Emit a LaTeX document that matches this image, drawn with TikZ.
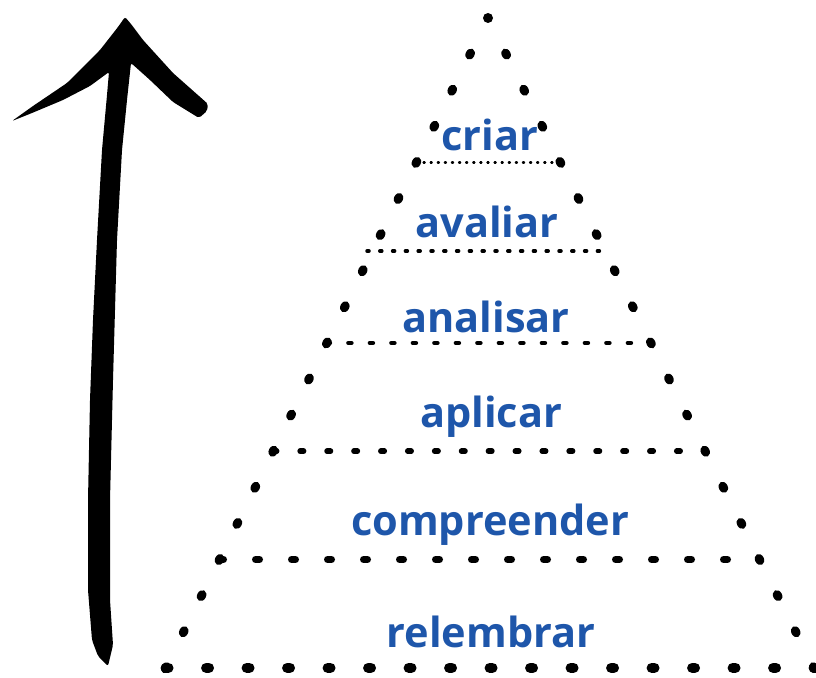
\documentclass[tikz,border=0pt]{standalone}
\definecolor{bloomblue}{RGB}{30,86,170}
\usepackage{fontspec}
\setmainfont{Open Sans}
\usepackage{tikz}
\usetikzlibrary{shapes.geometric}

\begin{document}
\begin{tikzpicture}[x=1pt, y=-1pt,
    sidedot/.style={ellipse, fill=black, inner sep=0pt, minimum width=11.5pt, minimum height=9pt},
    levellabel/.style={text=bloomblue, anchor=base, inner sep=0pt, font=\fontsize{41.5}{48}\selectfont\bfseries},
    levelline/.style={line cap=round, line width=#1}]
    \useasboundingbox (0,0) rectangle (816,677);
    % brush arrow
    \fill[rounded corners=2pt] (108,666) -- (98,656) -- (92,640) -- (88,590) -- (88,500) -- (90,400)
      -- (93,320) -- (97,240) -- (102,150) -- (107,95) -- (109,72)
      -- (90,86) -- (63,100) -- (32,113) -- (12,121)
      -- (33,106) -- (67,83) -- (100,50) -- (118,27) -- (125,17) -- (131,24)
      -- (143,40) -- (173,73) -- (208,104) -- (207,111) -- (199,118)
      -- (173,102) -- (150,80) -- (131,63) -- (127,100) -- (122,150)
      -- (117,240) -- (113,380) -- (110,500) -- (110,600) -- (113,645) -- cycle;
    % pyramid dots
    \node[sidedot, minimum width=10pt, minimum height=10pt] (apex) at (488,18) {};
    \foreach \k in {1,...,18}{
      \node[sidedot, rotate=63] (L\k) at ({488-17.9*\k},{18+36.1*\k}) {};
      \node[sidedot, rotate=-63] (R\k) at ({488+18.1*\k},{18+36.1*\k}) {};
    }
    \coordinate (avL) at (367,251);
    \coordinate (avR) at (610,251);
    \draw[levelline=2.2pt, dash pattern=on 1.2pt off 5.9pt] (L4.center) -- (R4.center);
    \draw[levelline=3.5pt, dash pattern=on 2pt off 10.8pt] (avL) -- (avR);
    \draw[levelline=4.5pt, dash pattern=on 3pt off 18.5pt] (L9.center) -- (R9.center);
    \draw[levelline=5.5pt, dash pattern=on 3.5pt off 23.4pt] (L12.center) -- (R12.center);
    \draw[levelline=7pt, dash pattern=on 4pt off 32pt] (L15.center) -- (R15.center);
    \draw[levelline=10.5pt, dash pattern=on 2.5pt off 38pt] (L18.center) -- (R18.center);
    % levels
    \node[levellabel] (criar) at (490,150) {criar};
    \node[levellabel] (avaliar) at (487,237) {avaliar};
    \node[levellabel] (analisar) at (486,332) {analisar};
    \node[levellabel] (aplicar) at (491,427) {aplicar};
    \node[levellabel] (compreender) at (490,535) {compreender};
    \node[levellabel] (relembrar) at (491,647) {relembrar};
\end{tikzpicture}
\end{document}
